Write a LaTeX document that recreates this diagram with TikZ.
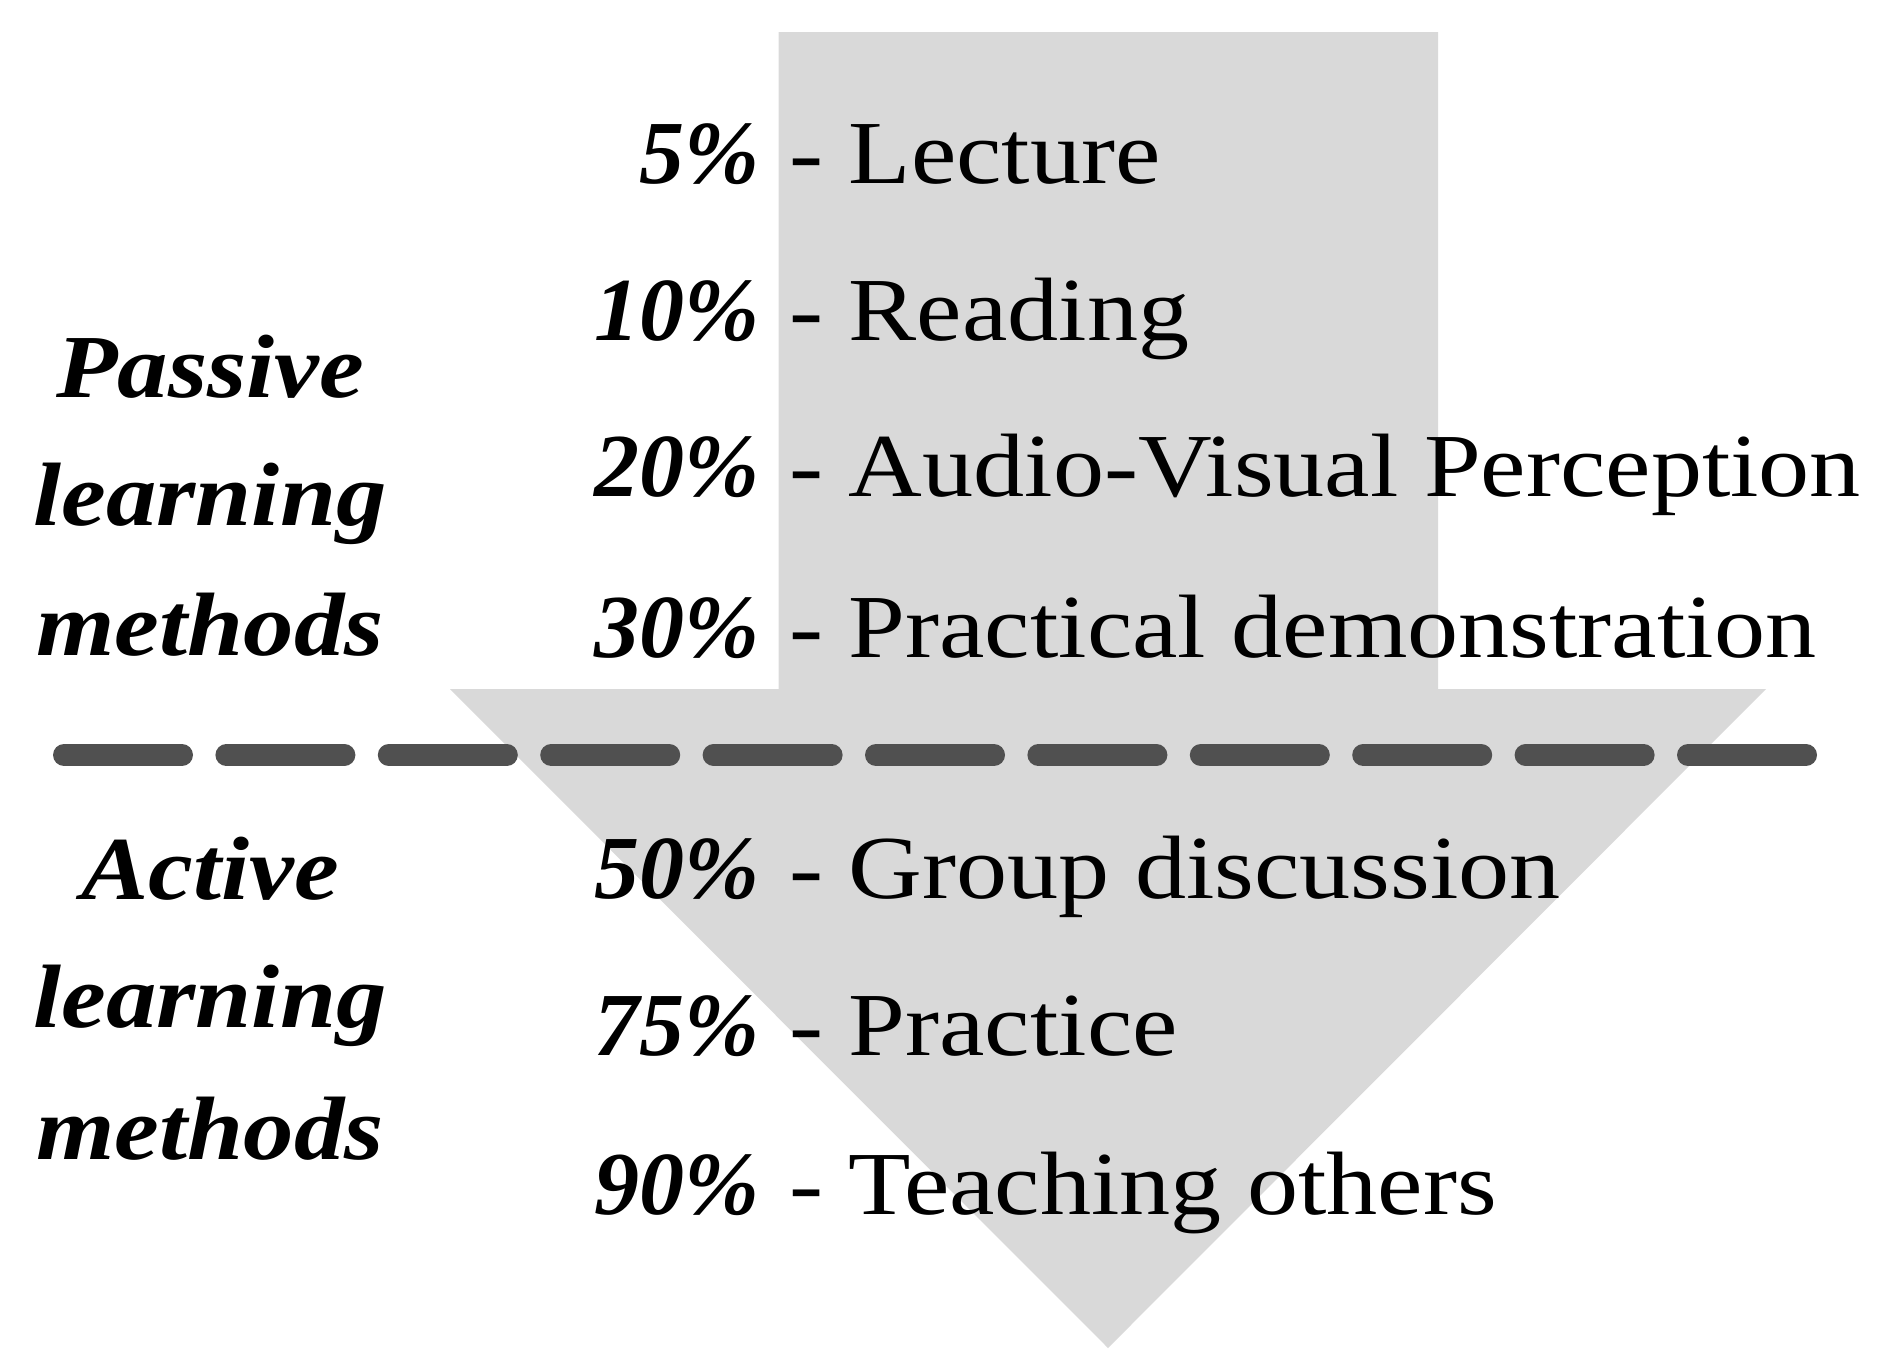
\documentclass[tikz,border=0pt]{standalone}
\usepackage{fontspec}
\setmainfont{Liberation Serif}
\newfontfamily\wideserif[FakeStretch=1.135]{Liberation Serif}
\newfontfamily\sideserif[FakeStretch=1.12]{Liberation Serif}
\definecolor{arrowgray}{HTML}{D9D9D9}
\definecolor{dashgray}{HTML}{505050}
\tikzset{
  pct/.style={font=\fontsize{90}{100}\selectfont\bfseries\itshape, inner sep=0pt, anchor=base east},
  itemtext/.style={font=\wideserif\fontsize{90}{100}\selectfont, inner sep=0pt, anchor=base west},
  sidelabel/.style={font=\sideserif\fontsize{90}{100}\selectfont\bfseries\itshape, inner sep=0pt, anchor=base},
  divider/.style={draw=dashgray, line width=22pt, line cap=round, dash pattern=on 118pt off 44.4pt}
}
\begin{document}
\begin{tikzpicture}[x=1pt,y=-1pt]
\useasboundingbox (0,0) rectangle (1884,1371);
% big arrow
\fill[arrowgray] (778.6,32) -- (1438.2,32) -- (1438.2,689) -- (1766,689) -- (1108,1348) -- (450,689) -- (778.6,689) -- cycle;
% divider
\coordinate (dl) at (64,755);
\coordinate (dr) at (1806,755);
\draw[divider] (dl) -- (dr);
% side labels
\node[sidelabel] (pa1) at (210,397) {Passive};
\node[sidelabel] (pa2) at (210,525) {learning};
\node[sidelabel] (pa3) at (210,655) {methods};
\node[sidelabel] (ac1) at (210,899) {Active};
\node[sidelabel] (ac2) at (210,1027) {learning};
\node[sidelabel] (ac3) at (210,1159) {methods};
% items
\node[pct] (p1) at (760,183) {5\%};
\node[itemtext] (t1) at (789,183) {- Lecture};
\node[pct] (p2) at (760,340) {10\%};
\node[itemtext] (t2) at (789,340) {- Reading};
\node[pct] (p3) at (760,496) {20\%};
\node[itemtext] (t3) at (789,496) {- Audio-Visual Perception};
\node[pct] (p4) at (760,657) {30\%};
\node[itemtext] (t4) at (789,657) {- Practical demonstration};
\node[pct] (p5) at (760,898) {50\%};
\node[itemtext] (t5) at (789,898) {- Group discussion};
\node[pct] (p6) at (760,1055) {75\%};
\node[itemtext] (t6) at (789,1055) {- Practice};
\node[pct] (p7) at (760,1214) {90\%};
\node[itemtext] (t7) at (789,1214) {- Teaching others};
\end{tikzpicture}
\end{document}
